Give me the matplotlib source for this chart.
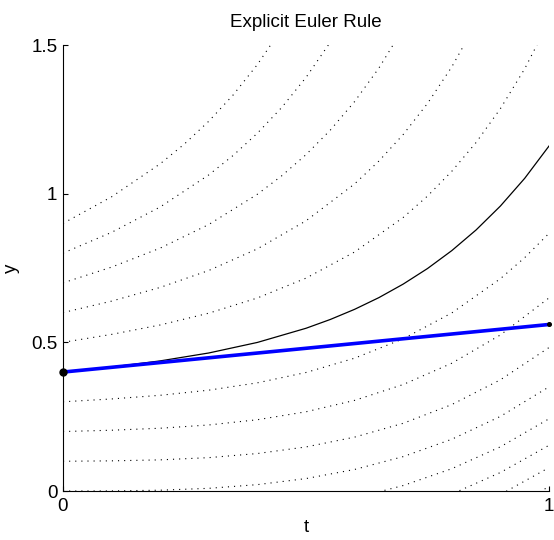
import matplotlib
matplotlib.use('Agg')
import matplotlib.pyplot as plt

# ---------------- data ----------------
t_grid = [0.0, 0.1, 0.2, 0.3, 0.4, 0.5, 0.6, 0.7, 0.8, 0.9, 1.0]

# dotted family of solution curves (start value at t=0 in the name)
fam_m04_t = [0.8, 0.9, 1.0]
fam_m04_y = [-0.1495, -0.0758, 0.0148]
fam_m03_y = [-0.3, -0.2909, -0.2804, -0.2666, -0.2476, -0.2217, -0.1872, -0.1421, -0.0844, -0.0118, 0.0787]
fam_m02_y = [-0.2, -0.1958, -0.1897, -0.1799, -0.1646, -0.1419, -0.1100, -0.0668, -0.0103, 0.0622, 0.1537]
fam_m01_y = [-0.1, -0.0987, -0.0954, -0.0882, -0.0752, -0.0544, -0.0239, 0.0184, 0.0750, 0.1486, 0.2428]
fam_p00_y = [0.0, 0.0003, 0.0027, 0.0090, 0.0214, 0.0418, 0.0724, 0.1157, 0.1741, 0.2509, 0.3502]
fam_p01_y = [0.1, 0.1014, 0.1047, 0.1122, 0.1260, 0.1482, 0.1812, 0.2277, 0.2907, 0.3740, 0.4825]
fam_p02_y = [0.2, 0.2044, 0.2111, 0.2221, 0.2397, 0.2664, 0.3048, 0.3581, 0.4298, 0.5248, 0.6494]
fam_p03_t = [0.0, 0.1, 0.2, 0.3, 0.4, 0.5, 0.6, 0.7, 0.8, 0.9, 0.95, 1.0]
fam_p03_y = [0.3, 0.3096, 0.3219, 0.3391, 0.3638, 0.3986, 0.4467, 0.5119, 0.5989, 0.7141, 0.7849, 0.8665]
fam_p05_t = [0.0, 0.1, 0.2, 0.3, 0.4, 0.5, 0.6, 0.7, 0.75, 0.8, 0.85, 0.9, 0.95, 1.0]
fam_p05_y = [0.5, 0.5267, 0.5584, 0.5981, 0.6492, 0.7159, 0.8038, 0.9200, 0.9919, 1.0753, 1.1721, 1.2860, 1.4200, 1.5798]
fam_p06_t = [0.0, 0.1, 0.2, 0.3, 0.4, 0.5, 0.6, 0.65, 0.7, 0.75, 0.8, 0.85]
fam_p06_y = [0.6, 0.6386, 0.6847, 0.7417, 0.8144, 0.9087, 1.0328, 1.1097, 1.1990, 1.3034, 1.4265, 1.5727]
fam_p07_t = [0.0, 0.1, 0.2, 0.3, 0.4, 0.45, 0.5, 0.55, 0.6, 0.65, 0.7]
fam_p07_y = [0.7, 0.7530, 0.8169, 0.8963, 0.9981, 1.0600, 1.1312, 1.2137, 1.3097, 1.4224, 1.5558]
fam_p08_t = [0.0, 0.1, 0.2, 0.3, 0.35, 0.4, 0.45, 0.5, 0.55]
fam_p08_y = [0.8, 0.8699, 0.9553, 1.0632, 1.1284, 1.2034, 1.2898, 1.3908, 1.5095]
fam_p09_t = [0.0, 0.1, 0.2, 0.25, 0.3, 0.35, 0.4, 0.45]
fam_p09_y = [0.9, 0.9894, 1.1005, 1.1673, 1.2437, 1.3318, 1.4343, 1.5549]

# exact solution through the starting point
exact_t = [0.0, 0.1, 0.2, 0.3, 0.4, 0.5, 0.55, 0.6, 0.65, 0.7, 0.75, 0.8, 0.85, 0.9, 0.95, 1.0]
exact_y = [0.4, 0.4170, 0.4376, 0.4642, 0.4997, 0.5473, 0.5769, 0.6110, 0.6504, 0.6959,
           0.7482, 0.8085, 0.8780, 0.9584, 1.0516, 1.1602]

# explicit Euler step
euler_t = [0.0, 1.0]
euler_y = [0.4, 0.56]

x_ticks = [0, 1]
x_ticklabels = ['0', '1']
y_ticks = [0, 0.5, 1, 1.5]
y_ticklabels = ['0', '0.5', '1', '1.5']

# ---------------- figure ----------------
plt.rcParams['font.family'] = ['Liberation Sans', 'DejaVu Sans']
FS = 13.5

fig = plt.figure(figsize=(5.54, 5.40), dpi=100)
ax = fig.add_axes([63 / 554, 1 - 491 / 540, (549 - 63) / 554, (491 - 45) / 540])

dot_style = dict(color='black', linewidth=0.8, linestyle=(0, (1, 4.5)))
family = [
    (fam_m04_t, fam_m04_y),
    (t_grid, fam_m03_y),
    (t_grid, fam_m02_y),
    (t_grid, fam_m01_y),
    (t_grid, fam_p00_y),
    (t_grid, fam_p01_y),
    (t_grid, fam_p02_y),
    (fam_p03_t, fam_p03_y),
    (fam_p05_t, fam_p05_y),
    (fam_p06_t, fam_p06_y),
    (fam_p07_t, fam_p07_y),
    (fam_p08_t, fam_p08_y),
    (fam_p09_t, fam_p09_y),
]
for tt, yy in family:
    ax.plot(tt, yy, **dot_style)

ax.plot(exact_t, exact_y, color='black', linewidth=0.9)
ax.plot(euler_t, euler_y, color=(0, 0, 1), linewidth=2.6, solid_capstyle='butt')
ax.plot(euler_t[0], euler_y[0], 'o', color='black', markersize=5, zorder=5, clip_on=False)
ax.plot(euler_t[1], euler_y[1], 'o', color='black', markersize=2.6, zorder=5, clip_on=False)

ax.set_xlim(0, 1)
ax.set_ylim(0, 1.5)
ax.set_xticks(x_ticks)
ax.set_xticklabels(x_ticklabels)
ax.set_yticks(y_ticks)
ax.set_yticklabels(y_ticklabels)

for s in ['top', 'right']:
    ax.spines[s].set_visible(False)
for s in ['left', 'bottom']:
    ax.spines[s].set_linewidth(0.8)
    ax.spines[s].set_color('black')

ax.tick_params(direction='in', length=3.3, width=0.8, labelsize=FS, colors='black')
ax.tick_params(axis='y', pad=4)
ax.tick_params(axis='x', pad=5)

ax.set_title('Explicit Euler Rule', fontsize=FS, pad=13)
ax.set_xlabel('t', fontsize=FS, labelpad=3)
ax.set_ylabel('y', fontsize=FS, labelpad=8)

fig.savefig('out.png', dpi=100)
